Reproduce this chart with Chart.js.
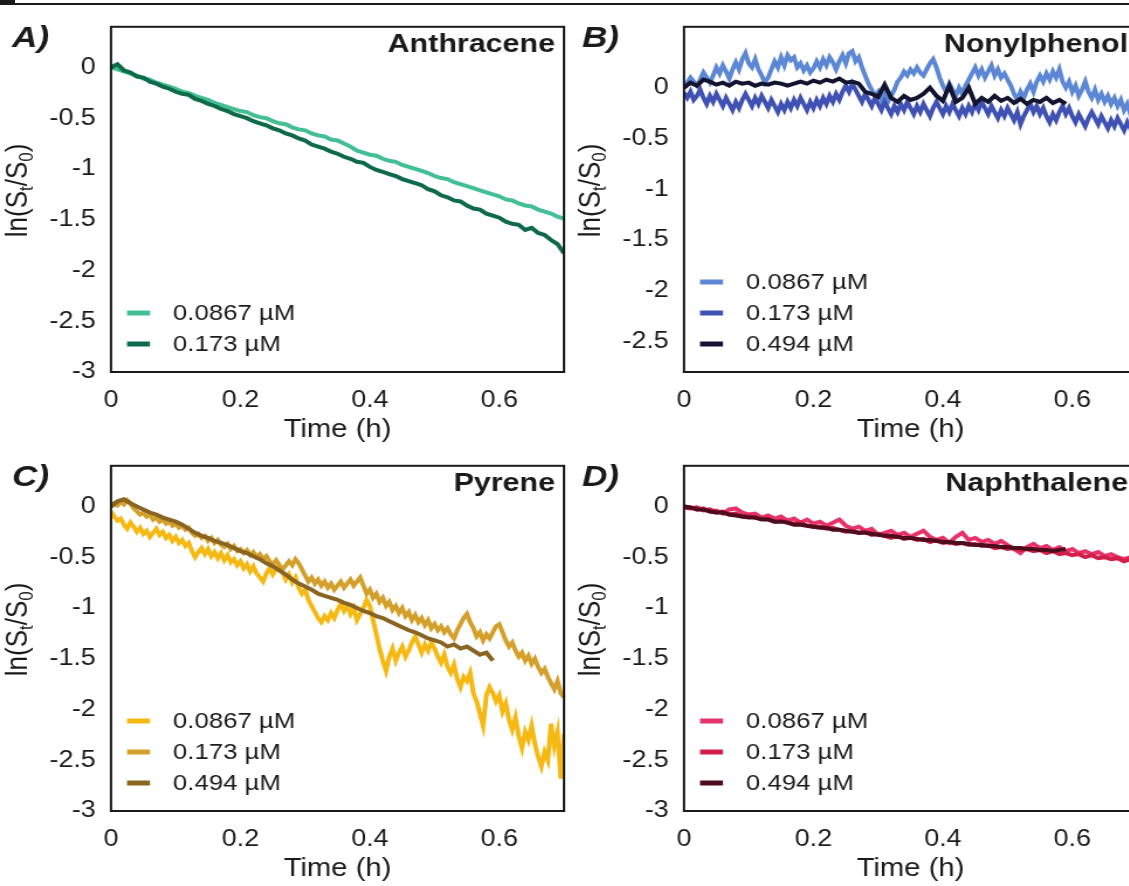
<!DOCTYPE html>
<html><head><meta charset="utf-8">
<script src="https://cdn.jsdelivr.net/npm/chart.js@4.4.1/dist/chart.umd.min.js"></script>
<style>
html,body{margin:0;padding:0;background:#fff;width:1129px;height:886px;overflow:hidden;position:relative;}
.wrap{position:absolute;height:443px;transform-origin:0 0;}
#topline{position:absolute;left:0;top:3px;width:1129px;height:2px;background:#1a1a1a;}
#stub{position:absolute;left:0;top:0;width:15px;height:4px;background:#1a1a1a;}
</style></head><body>
<div id="topline"></div><div id="stub"></div>
<div class="wrap" id="wA" style="left:0;top:0"><canvas id="cA"></canvas></div>
<div class="wrap" id="wB" style="left:573px;top:0"><canvas id="cB"></canvas></div>
<div class="wrap" id="wC" style="left:0;top:439px"><canvas id="cC"></canvas></div>
<div class="wrap" id="wD" style="left:573px;top:439px"><canvas id="cD"></canvas></div>
<script>
// ---------- data ----------
const stepFine = 0.005;
const stepCoarse = 0.01;
const xTicks = [0, 0.2, 0.4, 0.6];
const yTicksFull = [-3, -2.5, -2, -1.5, -1, -0.5, 0];
const yTicksB = [-2.5, -2, -1.5, -1, -0.5, 0];
const seriesLabels = ['0.0867 µM', '0.173 µM', '0.494 µM'];
const panelNames = ['Anthracene', 'Nonylphenol', 'Pyrene', 'Naphthalene'];
const panelLetters = ['A)', 'B)', 'C)', 'D)'];

// Anthracene (step 0.01)
const anth0867 = [0.00,-0.02,-0.04,-0.06,-0.08,-0.11,-0.12,-0.15,-0.17,-0.19,
 -0.21,-0.24,-0.25,-0.28,-0.30,-0.32,-0.35,-0.37,-0.39,-0.41,
 -0.43,-0.44,-0.47,-0.49,-0.50,-0.53,-0.55,-0.56,-0.59,-0.61,
 -0.62,-0.65,-0.67,-0.68,-0.71,-0.72,-0.75,-0.78,-0.82,-0.84,
 -0.86,-0.87,-0.90,-0.92,-0.93,-0.96,-0.98,-1.00,-1.02,-1.04,
 -1.07,-1.09,-1.10,-1.13,-1.15,-1.17,-1.19,-1.21,-1.23,-1.25,
 -1.27,-1.30,-1.31,-1.34,-1.36,-1.37,-1.40,-1.42,-1.44,-1.47,
 -1.49];
const anth173 = [0.00,0.03,-0.03,-0.05,-0.09,-0.10,-0.14,-0.16,-0.19,-0.21,
 -0.24,-0.26,-0.27,-0.31,-0.33,-0.36,-0.38,-0.41,-0.43,-0.46,
 -0.48,-0.50,-0.53,-0.55,-0.57,-0.60,-0.62,-0.65,-0.67,-0.70,
 -0.72,-0.76,-0.78,-0.80,-0.83,-0.85,-0.88,-0.90,-0.93,-0.94,
 -0.98,-1.01,-1.03,-1.05,-1.07,-1.10,-1.12,-1.14,-1.16,-1.20,
 -1.22,-1.26,-1.28,-1.31,-1.32,-1.36,-1.39,-1.40,-1.44,-1.46,
 -1.48,-1.52,-1.54,-1.55,-1.60,-1.58,-1.63,-1.65,-1.70,-1.74,
 -1.83];

// Nonylphenol (0.0867, 0.173 step 0.005; 0.494 step 0.01)
const nony0867 = [0.00,0.05,0.10,0.06,0.02,0.08,0.15,0.10,0.05,0.12,
 0.20,0.14,0.22,0.16,0.09,0.18,0.25,0.18,0.28,0.34,
 0.24,0.20,0.28,0.18,0.12,0.05,0.10,0.18,0.26,0.20,
 0.30,0.22,0.32,0.27,0.30,0.20,0.24,0.17,0.22,0.15,
 0.19,0.26,0.20,0.28,0.22,0.30,0.25,0.18,0.26,0.32,
 0.24,0.34,0.36,0.26,0.30,0.20,0.12,0.04,-0.02,-0.08,
 -0.04,-0.12,-0.06,-0.14,-0.08,-0.02,0.06,0.10,0.16,0.12,
 0.18,0.14,0.20,0.15,0.12,0.18,0.24,0.28,0.20,0.10,
 0.02,-0.04,0.04,-0.02,-0.08,0.00,-0.06,0.02,0.08,0.14,
 0.20,0.12,0.18,0.10,0.16,0.22,0.12,0.18,0.10,0.14,
 0.08,0.02,-0.06,-0.12,-0.04,-0.10,-0.02,0.04,-0.04,0.06,
 0.12,0.06,0.14,0.08,0.16,0.10,0.18,0.06,0.00,0.06,
 -0.04,0.02,-0.08,-0.02,0.06,-0.04,-0.10,-0.02,-0.12,-0.06,
 -0.14,-0.08,-0.16,-0.10,-0.18,-0.12,-0.22,-0.16,-0.26,-0.20,
 -0.28];
const nony173 = [-0.05,-0.10,-0.04,-0.12,-0.08,-0.02,-0.10,-0.16,-0.08,-0.14,
 -0.06,-0.12,-0.18,-0.10,-0.16,-0.22,-0.14,-0.20,-0.12,-0.06,
 -0.12,-0.18,-0.10,-0.16,-0.08,-0.14,-0.20,-0.12,-0.18,-0.24,
 -0.16,-0.22,-0.14,-0.20,-0.12,-0.18,-0.10,-0.16,-0.22,-0.14,
 -0.20,-0.12,-0.18,-0.10,-0.16,-0.08,-0.14,-0.06,-0.12,-0.04,
 0.02,-0.04,0.04,-0.02,-0.08,-0.14,-0.06,-0.12,-0.18,-0.10,
 -0.16,-0.22,-0.14,-0.20,-0.26,-0.18,-0.24,-0.16,-0.22,-0.14,
 -0.20,-0.26,-0.18,-0.24,-0.16,-0.22,-0.28,-0.20,-0.14,-0.20,
 -0.26,-0.18,-0.24,-0.16,-0.22,-0.28,-0.20,-0.26,-0.18,-0.24,
 -0.16,-0.22,-0.14,-0.20,-0.26,-0.18,-0.24,-0.30,-0.22,-0.28,
 -0.20,-0.26,-0.32,-0.24,-0.36,-0.28,-0.22,-0.16,-0.24,-0.18,
 -0.26,-0.20,-0.28,-0.34,-0.26,-0.32,-0.24,-0.18,-0.26,-0.20,
 -0.28,-0.34,-0.26,-0.32,-0.38,-0.30,-0.24,-0.30,-0.36,-0.28,
 -0.34,-0.40,-0.32,-0.38,-0.30,-0.36,-0.42,-0.34,-0.40,-0.36,
 -0.42];
const nony494 = [0.00,0.05,0.02,0.08,0.06,0.03,0.05,0.02,0.06,0.04,
 0.05,0.02,0.04,0.03,0.05,0.04,0.02,0.04,0.06,0.04,
 0.07,0.05,0.08,0.06,0.09,0.05,0.06,0.04,-0.04,-0.06,
 -0.09,0.03,-0.10,-0.14,-0.08,-0.12,-0.10,-0.06,0.00,-0.08,
 -0.13,0.02,-0.14,-0.10,0.00,-0.16,-0.10,-0.14,-0.08,-0.13,
 -0.10,-0.15,-0.11,-0.16,-0.12,-0.14,-0.10,-0.15,-0.12,-0.16];

// Pyrene (0.0867, 0.173 step 0.005; 0.494 step 0.01)
const pyr0867 = [-0.05,-0.10,-0.14,-0.12,-0.18,-0.22,-0.16,-0.20,-0.25,-0.21,
 -0.27,-0.24,-0.30,-0.26,-0.22,-0.28,-0.25,-0.31,-0.28,-0.34,
 -0.30,-0.36,-0.33,-0.39,-0.36,-0.44,-0.50,-0.45,-0.41,-0.47,
 -0.42,-0.49,-0.45,-0.51,-0.46,-0.53,-0.48,-0.55,-0.52,-0.58,
 -0.54,-0.61,-0.57,-0.64,-0.59,-0.66,-0.70,-0.74,-0.66,-0.61,
 -0.67,-0.62,-0.58,-0.65,-0.72,-0.67,-0.75,-0.70,-0.80,-0.86,
 -0.82,-0.92,-0.98,-1.04,-1.10,-1.14,-1.08,-1.12,-1.05,-1.10,
 -1.02,-0.96,-1.03,-0.98,-1.06,-1.00,-1.12,-1.06,-1.00,-0.92,
 -0.98,-1.12,-1.26,-1.40,-1.52,-1.62,-1.48,-1.40,-1.52,-1.44,
 -1.38,-1.48,-1.42,-1.34,-1.28,-1.36,-1.44,-1.36,-1.42,-1.34,
 -1.40,-1.48,-1.54,-1.46,-1.58,-1.64,-1.56,-1.70,-1.78,-1.68,
 -1.72,-1.64,-1.84,-1.92,-2.04,-2.16,-1.86,-1.78,-1.84,-1.92,
 -1.86,-2.02,-1.94,-2.10,-2.20,-2.08,-2.26,-2.38,-2.22,-2.30,
 -2.16,-2.34,-2.46,-2.56,-2.42,-2.50,-2.14,-2.36,-2.22,-2.68,
 -2.24];
const pyr173 = [0.00,0.03,0.01,0.05,0.02,0.06,0.03,-0.02,-0.05,-0.08,
 -0.06,-0.10,-0.08,-0.13,-0.11,-0.15,-0.13,-0.17,-0.15,-0.19,
 -0.17,-0.21,-0.19,-0.23,-0.21,-0.26,-0.29,-0.27,-0.31,-0.29,
 -0.34,-0.31,-0.36,-0.33,-0.38,-0.40,-0.37,-0.42,-0.39,-0.44,
 -0.42,-0.46,-0.43,-0.48,-0.45,-0.50,-0.47,-0.52,-0.49,-0.54,
 -0.57,-0.53,-0.58,-0.62,-0.58,-0.54,-0.58,-0.52,-0.56,-0.62,
 -0.68,-0.74,-0.70,-0.76,-0.72,-0.78,-0.74,-0.80,-0.76,-0.82,
 -0.78,-0.74,-0.80,-0.76,-0.72,-0.78,-0.74,-0.70,-0.78,-0.86,
 -0.82,-0.90,-0.86,-0.94,-0.90,-0.98,-0.94,-1.02,-0.98,-1.05,
 -1.00,-1.08,-1.04,-1.12,-1.07,-1.14,-1.10,-1.17,-1.12,-1.20,
 -1.16,-1.22,-1.18,-1.24,-1.20,-1.26,-1.30,-1.22,-1.16,-1.10,
 -1.06,-1.14,-1.20,-1.28,-1.24,-1.32,-1.26,-1.30,-1.24,-1.18,
 -1.16,-1.24,-1.32,-1.38,-1.34,-1.42,-1.48,-1.44,-1.52,-1.47,
 -1.55,-1.50,-1.58,-1.64,-1.60,-1.68,-1.74,-1.80,-1.72,-1.84,
 -1.88];
const pyr494 = [0.00,0.05,0.07,0.03,0.00,-0.03,-0.06,-0.08,-0.11,-0.13,
 -0.15,-0.18,-0.22,-0.26,-0.29,-0.31,-0.34,-0.36,-0.38,-0.41,
 -0.44,-0.46,-0.49,-0.52,-0.56,-0.59,-0.63,-0.67,-0.72,-0.76,
 -0.79,-0.82,-0.86,-0.88,-0.90,-0.92,-0.95,-0.97,-1.00,-1.03,
 -1.05,-1.08,-1.10,-1.13,-1.16,-1.19,-1.22,-1.24,-1.27,-1.30,
 -1.32,-1.34,-1.38,-1.36,-1.40,-1.38,-1.42,-1.46,-1.44,-1.52];

// Naphthalene (step 0.01)
const naph0867 = [0.00,-0.01,-0.03,-0.02,-0.05,-0.04,-0.07,-0.03,-0.02,-0.06,
 -0.08,-0.07,-0.11,-0.09,-0.12,-0.10,-0.14,-0.12,-0.16,-0.13,
 -0.17,-0.15,-0.19,-0.16,-0.13,-0.19,-0.22,-0.20,-0.24,-0.22,
 -0.28,-0.26,-0.24,-0.28,-0.26,-0.30,-0.27,-0.24,-0.30,-0.33,
 -0.31,-0.36,-0.30,-0.26,-0.33,-0.31,-0.35,-0.33,-0.37,-0.34,
 -0.38,-0.42,-0.46,-0.40,-0.37,-0.41,-0.39,-0.43,-0.40,-0.44,
 -0.42,-0.46,-0.44,-0.47,-0.45,-0.49,-0.47,-0.50,-0.52,-0.50,
 -0.54];
const naph173 = [-0.01,-0.02,-0.01,-0.04,-0.03,-0.06,-0.05,-0.08,-0.07,-0.10,
 -0.09,-0.11,-0.12,-0.12,-0.15,-0.14,-0.16,-0.17,-0.16,-0.19,
 -0.20,-0.20,-0.22,-0.21,-0.23,-0.25,-0.24,-0.26,-0.25,-0.28,
 -0.27,-0.29,-0.31,-0.29,-0.32,-0.31,-0.33,-0.32,-0.35,-0.33,
 -0.36,-0.35,-0.37,-0.36,-0.38,-0.37,-0.39,-0.38,-0.41,-0.40,
 -0.42,-0.41,-0.43,-0.42,-0.44,-0.43,-0.46,-0.44,-0.47,-0.46,
 -0.48,-0.47,-0.50,-0.48,-0.51,-0.50,-0.52,-0.51,-0.54,-0.52,
 -0.55];
const naph494 = [0.00,-0.01,-0.03,-0.03,-0.05,-0.06,-0.06,-0.08,-0.09,-0.10,
 -0.11,-0.11,-0.13,-0.13,-0.15,-0.15,-0.16,-0.18,-0.18,-0.19,
 -0.20,-0.21,-0.21,-0.23,-0.23,-0.24,-0.25,-0.26,-0.26,-0.27,
 -0.28,-0.29,-0.29,-0.30,-0.31,-0.31,-0.32,-0.33,-0.33,-0.34,
 -0.35,-0.35,-0.36,-0.36,-0.37,-0.38,-0.38,-0.39,-0.39,-0.40,
 -0.40,-0.41,-0.41,-0.42,-0.42,-0.43,-0.43,-0.44,-0.43,-0.42];

// ---------- rendering ----------
const FONT = '"Liberation Sans", Arial, Helvetica, sans-serif';
const INK = '#1a1a1a';
const K = 1.17;              // horizontal stretch of the source figure
const PANEL_W = 580, PANEL_H = 443;
const CW = Math.round(PANEL_W / K);

function toXY(values, step) {
  return values.map((v, i) => ({ x: Math.round(i * step * 1000) / 1000, y: v }));
}

const framePlugin = {
  id: 'frame',
  afterDatasetsDraw(chart) {
    const { ctx, chartArea: a } = chart;
    ctx.save();
    ctx.strokeStyle = INK;
    ctx.lineWidth = 2;
    ctx.strokeRect(a.left, a.top, a.right - a.left, a.bottom - a.top);
    ctx.restore();
  }
};

const decorPlugin = {
  id: 'decor',
  afterDraw(chart, args, opts) {
    const { ctx, chartArea: a } = chart;
    ctx.save();
    ctx.fillStyle = INK;
    ctx.font = `italic bold 30px ${FONT}`;
    ctx.textAlign = 'left';
    ctx.textBaseline = 'alphabetic';
    ctx.fillText(opts.letter, opts.letterX / K, 47);
    ctx.font = `bold 26px ${FONT}`;
    ctx.textAlign = 'right';
    ctx.fillText(opts.name, a.right - 9 / K, a.top + 25);
    const ds = chart.data.datasets;
    const spacing = 31;
    const lastY = a.bottom - 28;
    ctx.font = `22px ${FONT}`;
    ctx.textAlign = 'left';
    ctx.textBaseline = 'middle';
    ds.forEach((d, i) => {
      const y = lastY - (ds.length - 1 - i) * spacing;
      ctx.strokeStyle = d.borderColor;
      ctx.lineWidth = 5;
      ctx.lineCap = 'butt';
      ctx.beginPath();
      ctx.moveTo(a.left + 16 / K, y);
      ctx.lineTo(a.left + 39 / K, y);
      ctx.stroke();
      ctx.fillStyle = INK;
      ctx.fillText(d.label, a.left + 62 / K, y + 1);
    });
    ctx.translate(19 / K, (a.top + a.bottom) / 2 - 9);
    ctx.rotate(-Math.PI / 2);
    const big = `26px ${FONT}`, small = `17px ${FONT}`;
    const parts = [['ln(S', big, 0], ['t', small, 7], ['/S', big, 0], ['0', small, 7], [')', big, 0]];
    let total = 0;
    parts.forEach(p => { ctx.font = p[1]; total += ctx.measureText(p[0]).width; });
    let x = -total / 2;
    ctx.textAlign = 'left';
    ctx.textBaseline = 'middle';
    ctx.fillStyle = INK;
    parts.forEach(p => {
      ctx.font = p[1];
      ctx.fillText(p[0], x, p[2]);
      x += ctx.measureText(p[0]).width;
    });
    ctx.restore();
  }
};

function makeChart(id, wrapId, cfg) {
  const wrap = document.getElementById(wrapId);
  wrap.style.width = CW + 'px';
  wrap.style.transform = `scaleX(${K})`;
  const canvas = document.getElementById(id);
  canvas.width = CW;
  canvas.height = PANEL_H;
  const datasets = cfg.series.map((s, i) => ({
    label: seriesLabels[i],
    data: toXY(s.values, s.step),
    borderColor: s.color,
    borderWidth: 4,
    pointRadius: 0,
    tension: 0,
    fill: false,
    order: cfg.series.length - i
  }));
  return new Chart(canvas, {
    type: 'line',
    data: { datasets },
    plugins: [framePlugin, decorPlugin],
    options: {
      responsive: false,
      animation: false,
      events: [],
      layout: { padding: { top: 20, right: CW - 564 / K, left: 0, bottom: 0 } },
      plugins: {
        legend: { display: false },
        tooltip: { enabled: false },
        decor: { letter: cfg.letter, letterX: cfg.letterX, name: cfg.name }
      },
      scales: {
        x: {
          type: 'linear', min: 0, max: 0.7,
          grid: { display: false, drawTicks: false },
          border: { display: false },
          afterBuildTicks: s => { s.ticks = xTicks.map(v => ({ value: v })); },
          afterFit: s => { s.height = 71; },
          ticks: { padding: 15, color: INK, font: { family: FONT, size: 23 }, maxRotation: 0, autoSkip: false, callback: v => String(v) },
          title: { display: true, text: 'Time (h)', color: INK, font: { family: FONT, size: 25, lineHeight: 1 }, padding: { top: 0, bottom: 0 } }
        },
        y: {
          type: 'linear', min: cfg.yMin, max: cfg.yMax,
          grid: { display: false, drawTicks: false },
          border: { display: false },
          afterBuildTicks: s => { s.ticks = cfg.yTicks.map(v => ({ value: v })); },
          afterFit: s => { s.width = 111 / K; },
          ticks: { padding: 13, color: INK, font: { family: FONT, size: 23 }, autoSkip: false, callback: v => String(v) }
        }
      }
    }
  });
}

makeChart('cA', 'wA', {
  letter: panelLetters[0], letterX: 12, name: panelNames[0], yMin: -3, yMax: 0.4, yTicks: yTicksFull,
  series: [
    { values: anth0867, step: stepCoarse, color: '#43c093' },
    { values: anth173, step: stepCoarse, color: '#0e6a49' }
  ]
});
makeChart('cB', 'wB', {
  letter: panelLetters[1], letterX: 9, name: panelNames[1], yMin: -2.8, yMax: 0.6, yTicks: yTicksB,
  series: [
    { values: nony0867, step: stepFine, color: '#5b87d4' },
    { values: nony173, step: stepFine, color: '#3f51b3' },
    { values: nony494, step: stepCoarse, color: '#13142f' }
  ]
});
makeChart('cC', 'wC', {
  letter: panelLetters[2], letterX: 12, name: panelNames[2], yMin: -3, yMax: 0.4, yTicks: yTicksFull,
  series: [
    { values: pyr0867, step: stepFine, color: '#f6b914' },
    { values: pyr173, step: stepFine, color: '#d4a02c' },
    { values: pyr494, step: stepCoarse, color: '#8a6421' }
  ]
});
makeChart('cD', 'wD', {
  letter: panelLetters[3], letterX: 9, name: panelNames[3], yMin: -3, yMax: 0.4, yTicks: yTicksFull,
  series: [
    { values: naph0867, step: stepCoarse, color: '#e8336a' },
    { values: naph173, step: stepCoarse, color: '#d21f4a' },
    { values: naph494, step: stepCoarse, color: '#4f0c1c' }
  ]
});
</script>
</body></html>
